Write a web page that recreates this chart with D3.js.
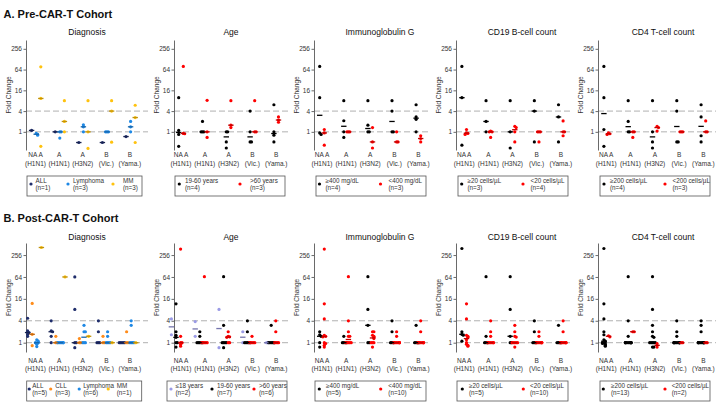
<!DOCTYPE html>
<html><head><meta charset="utf-8">
<script src="https://cdn.jsdelivr.net/npm/d3@7"></script>
<style>
body{margin:0;background:#fff}
svg{display:block}
text{font-family:"Liberation Sans",Arial,sans-serif}
</style>
</head><body>
<svg id="chart" width="719" height="404"></svg>
<script>
// ---------------- DATA ----------------
const categoryTop = ["NA A","A","A","B","B"];
const categoryBottom = ["(H1N1)","(H1N1)","(H3N2)","(Vic.)","(Yama.)"];
const yTickValues = [1,4,16,64,256];
const referenceLines = [1,4];
const panelTitles = ["Diagnosis","Age","Immunoglobulin G","CD19 B-cell count","CD4 T-cell count"];
const cohortTitles = ["A. Pre-CAR-T Cohort","B. Post-CAR-T Cohort"];

// colours per group
const preDiagnosisColors  = ["#1f2d6b","#1e88e5","#ffc20e"];
const postDiagnosisColors = ["#1f2d6b","#ff8c1a","#1e88e5","#ffc20e"];
const postAgeColors       = ["#9b9be6","#000000","#ff0000"];
const binaryColors        = ["#000000","#ff0000"];

// legend labels
const preDiagnosisLegend  = [["ALL","(n=1)"],["Lymphoma","(n=3)"],["MM","(n=3)"]];
const preAgeLegend        = [["19-60 years","(n=4)"],[">60 years","(n=3)"]];
const preIgGLegend        = [["\u2265400 mg/dL","(n=4)"],["<400 mg/dL","(n=3)"]];
const preCD19Legend       = [["\u226520 cells/\u00b5L","(n=3)"],["<20 cells/\u00b5L","(n=4)"]];
const preCD4Legend        = [["\u2265200 cells/\u00b5L","(n=4)"],["<200 cells/\u00b5L","(n=3)"]];
const postDiagnosisLegend = [["ALL","(n=5)"],["CLL","(n=3)"],["Lymphoma","(n=6)"],["MM","(n=1)"]];
const postAgeLegend       = [["\u226418 years","(n=2)"],["19-60 years","(n=7)"],[">60 years","(n=6)"]];
const postIgGLegend       = [["\u2265400 mg/dL","(n=5)"],["<400 mg/dL","(n=10)"]];
const postCD19Legend      = [["\u226520 cells/\u00b5L","(n=5)"],["<20 cells/\u00b5L","(n=10)"]];
const postCD4Legend       = [["\u2265200 cells/\u00b5L","(n=13)"],["<200 cells/\u00b5L","(n=2)"]];

// fold-change values: [group][category] -> list of patients
const preDiagnosisValues = [
  [[1.1],[1],[0.49],[0.49],[0.73]],
  [[0.9,0.85,0.8],[1,1,0.66],[1.6,1.4,1],[1,1,1],[2,1.4,1]],
  [[77,9.3,0.38],[8,2,1],[8,1,0.33],[8,4,0.5],[5.9,2.6,0.49]]
];
const preAgeValues = [
  [[9.8,1.1,0.84,0.38],[2,1,1,1],[1,1,0.51,0.34],[4,1,0.51,0.51],[6.1,1,0.8,0.51]],
  [[79,0.9,0.88],[8.2,1,0.69],[8,1.56,1.33],[8,1,1],[2.7,2.2,1.9]]
];
const preIgGValues = [
  [[79,9.8,0.93,0.84],[8,2.1,1,0.69],[8,1.56,1,1],[8,4,1,1],[6.1,2.7,2.3,1]],
  [[1.17,0.93,0.41],[1,1,1],[1.33,0.51,0.34],[1,0.51,0.51],[0.77,0.64,0.51]]
];
const preCD19Values = [
  [[79,9.8,0.41],[8,2,1],[8,1,0.34],[8,4,0.51],[6.1,2.7,0.51]],
  [[1.17,0.93,0.9,0.84],[1.05,1,1,0.69],[1.45,1.33,1,0.51],[1,1,1,0.51],[2.07,1,1,0.77]]
];
const preCD4Values = [
  [[79,9.8,1.17,0.38],[8,2,1,1],[8,1,0.51,0.34],[8,4,0.51,0.51],[6.1,2.7,0.77,0.51]],
  [[0.93,0.88,0.84],[1,1,0.69],[1.45,1.33,1.05],[1,1,1],[2.07,1,1]]
];
const postDiagnosisValues = [
  [[4.7,2.1,1.9,1.7,1.5],[4,2.1,2,1.5,1],[64,8.2,1,1,0.73],[4,2,1,1,1],[1,1,1,1,1]],
  [[12,1.7,0.83],[1.5,1,1],[1.3,1,1],[1.5,1,1],[2,1,1]],
  [[1.2,1.1,1,1,0.9,0.78],[1,1,1,1,1,1],[3,2,2,1,1,1],[2,1.5,1,1,1,1],[4,3,1,1,1,1]],
  [[413],[64],[1.5],[1],[1]]
];
const postAgeValues = [
  [[4.5,1.65],[3.8,1.5],[8.2,0.73],[2,1],[1,1]],
  [[11.7,2,1.6,1.4,1,1,0.76],[2,1.5,1,1,1,1,1],[65,3,1,1,1,1,0.73],[4,2,1,1,1,1,1],[3,1,1,1,1,1,1]],
  [[374,1.5,1,1,0.9,0.8],[65,1,1,1,1,1],[2,1.5,1.45,1.4,1,1],[1.5,1,1,1,1,1],[4,2,1,1,1,1]]
];
const postIgGValues = [
  [[2,1.65,1.5,1,0.76],[1.5,1,1,1,1],[65,8.2,3,1,1],[4,2,1,1,1],[3,1,1,1,1]],
  [[374,11.7,4.5,1.6,1.5,1.45,1,0.95,0.85,0.76],[65,4,2,1.5,1.5,1,1,1,1,1],[2,2,1.6,1.5,1.4,1.3,1,1,1,0.76],[2,1.5,1,1,1,1,1,1,1,1],[4,2,1,1,1,1,1,1,1,1]]
];
const postCD19Values = [
  [[388,2,1.7,1.6,1.1],[65,1.5,1,1,1],[65,8.2,1.5,1,1],[4,2,1,1,1],[3,1,1,1,1]],
  [[11.7,4.5,1.6,1.5,1.4,1.2,1,0.9,0.85,0.8],[4,2,1.5,1,1,1,1,1,1,1],[3,2,1.5,1.43,1,1,1,1,1,0.76],[2,1.5,1,1,1,1,1,1,1,1],[4,2,1,1,1,1,1,1,1,1]]
];
const postCD4Values = [
  [[388,11.7,4.5,2,1.65,1.2,1.1,1,1,0.95,0.9,0.85,0.8],[65,4,1.5,1,1,1,1,1,1,1,1,1,1],[65,8.2,3,2,1.5,1.4,1,1,1,1,1,0.76,0.76],[4,2,1.5,1,1,1,1,1,1,1,1,1,1],[4,3,2,1,1,1,1,1,1,1,1,1,1]],
  [[1.55,1.45],[2,2],[0.94,0.76],[1,1],[1,1]]
];

// ---------------- LAYOUT ----------------
const svg = d3.select("#chart");
const axisX   = [26, 174, 314, 456, 598];
const plotR   = [148, 290, 428, 570, 716];
const catX0   = [35.5, 181, 322, 464.2, 606.2];
const catStep = [23.6, 23.8, 24.1, 24.15, 24.3];
const titleX  = [87, 231, 380, 522, 663];
const rows = [
  {yTop:40, yBot:150, dom:[-1.75,8.85], headerY:17.5, titleY:34.5, lab1:157, lab2:165.5,
   legTop:176, legText1:182.5, legText2:190, legMark:184,
   shift:[0.7,0,0,0,0],
   values:[preDiagnosisValues,preAgeValues,preIgGValues,preCD19Values,preCD4Values],
   colors:[preDiagnosisColors,binaryColors,binaryColors,binaryColors,binaryColors],
   legends:[preDiagnosisLegend,preAgeLegend,preIgGLegend,preCD19Legend,preCD4Legend],
   legBox:[[27,115],[175,110],[316,110],[458,110],[600,110]],
   legMarks:[[4,41,86],[4.3,65],[3.5,64.5],[3.7,65],[4,65]],
   legTexts:[[8.5,46,96],[10,75],[9.5,72.5],[9.5,72.5],[10,72.5]]},
  {yTop:243, yBot:352, dom:[-0.85,9.1], headerY:221.5, titleY:240, lab1:362.5, lab2:370.5,
   legTop:381, legText1:387.5, legText2:395, legMark:389,
   shift:[-1,-5,0,0,0],
   values:[postDiagnosisValues,postAgeValues,postIgGValues,postCD19Values,postCD4Values],
   colors:[postDiagnosisColors,postAgeColors,binaryColors,binaryColors,binaryColors],
   legends:[postDiagnosisLegend,postAgeLegend,postIgGLegend,postCD19Legend,postCD4Legend],
   legBox:[[26.7,115],[167,120],[315,111],[457,111],[600,110]],
   legMarks:[[2.5,24,52.5,81.5],[4,45,87],[4.3,65.7],[5.3,66.3],[3.3,65]],
   legTexts:[[5.5,28.5,56.5,90],[8.5,50,92],[11,73.3],[12,73],[11,71.7]]}
];
const DODGE = 4.6, DASH = 2.7, R = 1.6;

rows.forEach((row, ri) => {
  svg.append("text").attr("x",3.5).attr("y",row.headerY)
    .attr("font-size",11).attr("font-weight","bold").attr("fill","#111")
    .text(cohortTitles[ri]);

  const y = d3.scaleLog().base(2)
    .domain([Math.pow(2,row.dom[0]), Math.pow(2,row.dom[1])])
    .range([row.yBot, row.yTop]);

  for (let p = 0; p < 5; p++) {
    const g = svg.append("g");
    const x = d3.scalePoint().domain(d3.range(5))
      .range([catX0[p], catX0[p] + 4*catStep[p]]);

    g.append("text").attr("x",titleX[p]).attr("y",row.titleY)
      .attr("text-anchor","middle").attr("font-size",8.5).attr("fill","#111")
      .text(panelTitles[p]);

    g.selectAll("line.ref").data(referenceLines).join("line")
      .attr("x1",axisX[p]).attr("x2",plotR[p])
      .attr("y1",d=>y(d)).attr("y2",d=>y(d))
      .attr("stroke","#a8a8a8").attr("stroke-width",0.9)
      .attr("stroke-dasharray","6,3");

    const ax = g.append("g").attr("transform",`translate(${axisX[p]},0)`)
      .call(d3.axisLeft(y).tickValues(yTickValues).tickFormat(d3.format("d"))
        .tickSize(2.5).tickSizeOuter(0).tickPadding(1.5));
    ax.select(".domain").attr("stroke","#444").attr("stroke-width",0.8);
    ax.selectAll(".tick line").attr("stroke","#444").attr("stroke-width",0.8);
    ax.selectAll(".tick text").attr("font-size",6.5).attr("fill","#333")
      .attr("font-family","'Liberation Sans',Arial,sans-serif");

    g.append("text")
      .attr("transform",`translate(${axisX[p]-15},${(row.yTop+row.yBot)/2}) rotate(-90)`)
      .attr("text-anchor","middle").attr("font-size",6.5).attr("fill","#333")
      .text("Fold Change");

    d3.range(5).forEach(c => {
      g.append("text").attr("x",x(c)).attr("y",row.lab1).attr("text-anchor","middle")
        .attr("font-size",6.5).attr("fill","#333").text(categoryTop[c]);
      g.append("text").attr("x",x(c)).attr("y",row.lab2).attr("text-anchor","middle")
        .attr("font-size",6.5).attr("fill","#333").text(categoryBottom[c]);
    });

    const vals = row.values[p], cols = row.colors[p], nG = vals.length;
    const pts = [], meds = [];
    vals.forEach((groupVals, gi) => {
      groupVals.forEach((list, c) => {
        const cx = x(c) + row.shift[p] + (gi - (nG-1)/2) * DODGE;
        const placed = [];
        list.slice().sort((a,b)=>b-a).forEach(v => {
          const py = y(v);
          const k = placed.filter(q => Math.abs(q - py) < 1.6).length;
          let off = k === 0 ? 0 : (k % 2 ? 1 : -1) * Math.ceil(k/2) * 1.4;
          off = Math.max(-2.8, Math.min(2.8, off));
          placed.push(py);
          pts.push({x: cx + off, y: py, color: cols[gi]});
        });
        const m = Math.pow(2, d3.median(list.map(Math.log2)));
        meds.push({x: cx, y: y(m), color: d3.color(cols[gi]).darker(0.8).formatHex()});
      });
    });
    g.selectAll("circle.pt").data(pts).join("circle")
      .attr("cx",d=>d.x).attr("cy",d=>d.y).attr("r",R).attr("fill",d=>d.color);
    g.selectAll("line.med").data(meds).join("line")
      .attr("x1",d=>d.x-DASH).attr("x2",d=>d.x+DASH)
      .attr("y1",d=>d.y).attr("y2",d=>d.y)
      .attr("stroke",d=>d.color).attr("stroke-width",1.3);

    const [lx, lw] = row.legBox[p];
    g.append("rect").attr("x",lx).attr("y",row.legTop).attr("width",lw).attr("height",20)
      .attr("fill","none").attr("stroke","#555").attr("stroke-width",0.8);
    row.legends[p].forEach((lab, li) => {
      g.append("circle").attr("cx",lx+row.legMarks[p][li]).attr("cy",row.legMark)
        .attr("r",R).attr("fill",cols[li]);
      g.append("text").attr("x",lx+row.legTexts[p][li]).attr("y",row.legText1)
        .attr("font-size",6.3).attr("fill","#333").text(lab[0]);
      g.append("text").attr("x",lx+row.legTexts[p][li]).attr("y",row.legText2)
        .attr("font-size",6.3).attr("fill","#333").text(lab[1]);
    });
  }
});
</script>
</body></html>
